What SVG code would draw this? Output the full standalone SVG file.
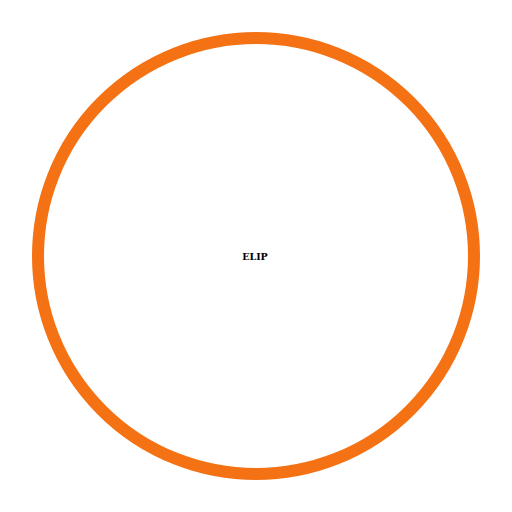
<svg xmlns="http://www.w3.org/2000/svg" width="512" height="512" viewBox="0 0 512 512">
<style>
.shape{fill:#ffffff;stroke:#f57214;stroke-width:12}
.lbl{font-family:"DejaVu Serif",serif;font-weight:bold;font-size:9.5px;fill:#000000}
</style>
<rect width="512" height="512" fill="#ffffff"/>
<g id="connectors"></g>
<g id="elip">
<circle class="shape" cx="256" cy="256" r="218"/>
<text class="lbl" x="255" y="259.5" text-anchor="middle">ELIP</text>
</g>
</svg>
